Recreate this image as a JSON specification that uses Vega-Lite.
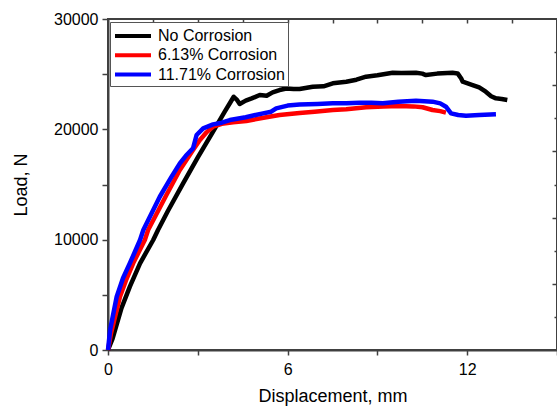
{
  "$schema": "https://vega.github.io/schema/vega-lite/v6.json",
  "width": 449,
  "height": 331,
  "autosize": {"type": "none"},
  "padding": {"left": 108, "top": 19, "right": 0, "bottom": 61},
  "background": "white",
  "config": {
    "view": {"stroke": "#404040", "strokeWidth": 2},
    "font": "Liberation Sans",
    "axis": {
      "domainColor": "#404040", "domainWidth": 2,
      "tickColor": "#404040", "tickWidth": 1.5,
      "labelColor": "black", "titleColor": "black", "grid": false,
      "labelFlush": false,
      "labelFont": "Liberation Sans", "titleFont": "Liberation Sans",
      "labelFontSize": 16, "titleFontSize": 18, "titleFontWeight": "normal"
    }
  },
  "data": {
    "values": [
      {"series": "No Corrosion", "disp": 0, "load": 0},
      {"series": "No Corrosion", "disp": 0.15, "load": 1000},
      {"series": "No Corrosion", "disp": 0.45, "load": 3800},
      {"series": "No Corrosion", "disp": 0.73, "load": 5740},
      {"series": "No Corrosion", "disp": 1.07, "load": 7860},
      {"series": "No Corrosion", "disp": 1.51, "load": 9970},
      {"series": "No Corrosion", "disp": 1.67, "load": 10876},
      {"series": "No Corrosion", "disp": 2.0, "load": 12600},
      {"series": "No Corrosion", "disp": 2.5, "load": 15050},
      {"series": "No Corrosion", "disp": 3.0, "load": 17450},
      {"series": "No Corrosion", "disp": 3.5, "load": 19750},
      {"series": "No Corrosion", "disp": 3.9, "load": 21600},
      {"series": "No Corrosion", "disp": 4.1, "load": 22500},
      {"series": "No Corrosion", "disp": 4.2, "load": 22950},
      {"series": "No Corrosion", "disp": 4.3, "load": 22700},
      {"series": "No Corrosion", "disp": 4.4, "load": 22300},
      {"series": "No Corrosion", "disp": 4.6, "load": 22600},
      {"series": "No Corrosion", "disp": 4.8, "load": 22800},
      {"series": "No Corrosion", "disp": 5.07, "load": 23110},
      {"series": "No Corrosion", "disp": 5.3, "load": 23050},
      {"series": "No Corrosion", "disp": 5.5, "load": 23350},
      {"series": "No Corrosion", "disp": 5.73, "load": 23564},
      {"series": "No Corrosion", "disp": 5.96, "load": 23700},
      {"series": "No Corrosion", "disp": 6.2, "load": 23650},
      {"series": "No Corrosion", "disp": 6.4, "load": 23650},
      {"series": "No Corrosion", "disp": 6.84, "load": 23860},
      {"series": "No Corrosion", "disp": 7.2, "load": 23900},
      {"series": "No Corrosion", "disp": 7.51, "load": 24170},
      {"series": "No Corrosion", "disp": 7.96, "load": 24316},
      {"series": "No Corrosion", "disp": 8.3, "load": 24500},
      {"series": "No Corrosion", "disp": 8.62, "load": 24770},
      {"series": "No Corrosion", "disp": 9.0, "load": 24900},
      {"series": "No Corrosion", "disp": 9.51, "load": 25130},
      {"series": "No Corrosion", "disp": 9.8, "load": 25100},
      {"series": "No Corrosion", "disp": 10.29, "load": 25130},
      {"series": "No Corrosion", "disp": 10.5, "load": 25050},
      {"series": "No Corrosion", "disp": 10.62, "load": 24920},
      {"series": "No Corrosion", "disp": 11.0, "load": 25050},
      {"series": "No Corrosion", "disp": 11.51, "load": 25130},
      {"series": "No Corrosion", "disp": 11.68, "load": 25070},
      {"series": "No Corrosion", "disp": 11.8, "load": 24600},
      {"series": "No Corrosion", "disp": 11.85, "load": 24316},
      {"series": "No Corrosion", "disp": 12.18, "load": 24017},
      {"series": "No Corrosion", "disp": 12.4, "load": 23800},
      {"series": "No Corrosion", "disp": 12.62, "load": 23410},
      {"series": "No Corrosion", "disp": 12.8, "load": 23000},
      {"series": "No Corrosion", "disp": 12.96, "load": 22810},
      {"series": "No Corrosion", "disp": 13.15, "load": 22750},
      {"series": "No Corrosion", "disp": 13.34, "load": 22657},

      {"series": "6.13% Corrosion", "disp": 0, "load": 0},
      {"series": "6.13% Corrosion", "disp": 0.1, "load": 1500},
      {"series": "6.13% Corrosion", "disp": 0.4, "load": 4830},
      {"series": "6.13% Corrosion", "disp": 0.6, "load": 6300},
      {"series": "6.13% Corrosion", "disp": 0.84, "load": 7860},
      {"series": "6.13% Corrosion", "disp": 1.23, "load": 9970},
      {"series": "6.13% Corrosion", "disp": 1.34, "load": 10876},
      {"series": "6.13% Corrosion", "disp": 1.96, "load": 14100},
      {"series": "6.13% Corrosion", "disp": 2.4, "load": 16313},
      {"series": "6.13% Corrosion", "disp": 2.84, "load": 18126},
      {"series": "6.13% Corrosion", "disp": 3.07, "load": 19030},
      {"series": "6.13% Corrosion", "disp": 3.3, "load": 19750},
      {"series": "6.13% Corrosion", "disp": 3.51, "load": 20240},
      {"series": "6.13% Corrosion", "disp": 3.8, "load": 20500},
      {"series": "6.13% Corrosion", "disp": 4.18, "load": 20650},
      {"series": "6.13% Corrosion", "disp": 4.62, "load": 20750},
      {"series": "6.13% Corrosion", "disp": 5.29, "load": 21100},
      {"series": "6.13% Corrosion", "disp": 5.73, "load": 21300},
      {"series": "6.13% Corrosion", "disp": 6.4, "load": 21480},
      {"series": "6.13% Corrosion", "disp": 6.9, "load": 21600},
      {"series": "6.13% Corrosion", "disp": 7.51, "load": 21750},
      {"series": "6.13% Corrosion", "disp": 7.96, "load": 21815},
      {"series": "6.13% Corrosion", "disp": 8.62, "load": 22000},
      {"series": "6.13% Corrosion", "disp": 9.2, "load": 22080},
      {"series": "6.13% Corrosion", "disp": 9.73, "load": 22110},
      {"series": "6.13% Corrosion", "disp": 10.2, "load": 22080},
      {"series": "6.13% Corrosion", "disp": 10.51, "load": 22000},
      {"series": "6.13% Corrosion", "disp": 10.84, "load": 21750},
      {"series": "6.13% Corrosion", "disp": 11.1, "load": 21650},
      {"series": "6.13% Corrosion", "disp": 11.29, "load": 21510},

      {"series": "11.71% Corrosion", "disp": 0, "load": 0},
      {"series": "11.71% Corrosion", "disp": 0.07, "load": 1810},
      {"series": "11.71% Corrosion", "disp": 0.29, "load": 4830},
      {"series": "11.71% Corrosion", "disp": 0.5, "load": 6500},
      {"series": "11.71% Corrosion", "disp": 0.73, "load": 7860},
      {"series": "11.71% Corrosion", "disp": 1.07, "load": 9970},
      {"series": "11.71% Corrosion", "disp": 1.18, "load": 10876},
      {"series": "11.71% Corrosion", "disp": 1.73, "load": 13890},
      {"series": "11.71% Corrosion", "disp": 2.1, "load": 15600},
      {"series": "11.71% Corrosion", "disp": 2.4, "load": 16920},
      {"series": "11.71% Corrosion", "disp": 2.6, "load": 17600},
      {"series": "11.71% Corrosion", "disp": 2.84, "load": 18280},
      {"series": "11.71% Corrosion", "disp": 2.96, "load": 19485},
      {"series": "11.71% Corrosion", "disp": 3.18, "load": 20090},
      {"series": "11.71% Corrosion", "disp": 3.51, "load": 20450},
      {"series": "11.71% Corrosion", "disp": 3.8, "load": 20600},
      {"series": "11.71% Corrosion", "disp": 4.07, "load": 20845},
      {"series": "11.71% Corrosion", "disp": 4.6, "load": 21100},
      {"series": "11.71% Corrosion", "disp": 5.18, "load": 21450},
      {"series": "11.71% Corrosion", "disp": 5.45, "load": 21600},
      {"series": "11.71% Corrosion", "disp": 5.62, "load": 21900},
      {"series": "11.71% Corrosion", "disp": 6.0, "load": 22150},
      {"series": "11.71% Corrosion", "disp": 6.4, "load": 22250},
      {"series": "11.71% Corrosion", "disp": 7.0, "load": 22300},
      {"series": "11.71% Corrosion", "disp": 7.51, "load": 22360},
      {"series": "11.71% Corrosion", "disp": 7.96, "load": 22360},
      {"series": "11.71% Corrosion", "disp": 8.4, "load": 22420},
      {"series": "11.71% Corrosion", "disp": 8.8, "load": 22400},
      {"series": "11.71% Corrosion", "disp": 9.18, "load": 22360},
      {"series": "11.71% Corrosion", "disp": 9.7, "load": 22500},
      {"series": "11.71% Corrosion", "disp": 10.29, "load": 22600},
      {"series": "11.71% Corrosion", "disp": 10.84, "load": 22510},
      {"series": "11.71% Corrosion", "disp": 11.1, "load": 22350},
      {"series": "11.71% Corrosion", "disp": 11.29, "load": 22050},
      {"series": "11.71% Corrosion", "disp": 11.46, "load": 21450},
      {"series": "11.71% Corrosion", "disp": 11.7, "load": 21300},
      {"series": "11.71% Corrosion", "disp": 11.96, "load": 21240},
      {"series": "11.71% Corrosion", "disp": 12.4, "load": 21300},
      {"series": "11.71% Corrosion", "disp": 12.96, "load": 21360}
    ]
  },
  "layer": [
    {
      "mark": {"type": "line", "strokeWidth": 4.5, "strokeJoin": "round"},
      "encoding": {
        "x": {
          "field": "disp", "type": "quantitative",
          "scale": {"domain": [0, 15], "nice": false, "zero": false},
          "axis": {
            "values": [0, 3, 6, 9, 12, 15],
            "format": "d",
            "labelExpr": "datum.value % 6 === 0 && datum.value < 15 ? datum.label : ''",
            "tickSize": 5, "labelPadding": 6,
            "title": "Displacement, mm", "titlePadding": 10
          }
        },
        "y": {
          "field": "load", "type": "quantitative",
          "scale": {"domain": [0, 30000], "nice": false},
          "axis": {
            "values": [0, 5000, 10000, 15000, 20000, 25000, 30000],
            "format": "d",
            "labelExpr": "datum.value % 10000 === 0 ? datum.label : ''",
            "tickSize": 6, "labelPadding": 4,
            "title": "Load, N", "titlePadding": 23
          }
        },
        "color": {
          "field": "series", "type": "nominal",
          "scale": {
            "domain": ["No Corrosion", "6.13% Corrosion", "11.71% Corrosion"],
            "range": ["#000000", "#ff0000", "#0000ff"]
          },
          "legend": {
            "orient": "none", "legendX": 2, "legendY": 3,
            "title": null,
            "strokeColor": "#555555", "fillColor": "white", "padding": 3,
            "symbolType": "M-1,0H3", "symbolSize": 324, "symbolStrokeWidth": 4,
            "labelOffset": 23, "labelFontSize": 16, "labelFont": "Liberation Sans",
            "labelColor": "black", "rowPadding": 0.3
          }
        }
      }
    },
    {
      "mark": {"type": "point", "opacity": 0},
      "encoding": {
        "x": {
          "field": "disp", "type": "quantitative",
          "axis": {
            "orient": "top", "offset": -4, "domain": false,
            "values": [1.5, 3, 4.5, 6, 7.5, 9, 10.5, 12, 13.5],
            "tickSize": 4, "labels": false, "title": null
          }
        },
        "y": {
          "field": "load", "type": "quantitative",
          "axis": {
            "orient": "right", "offset": -5, "domain": false,
            "values": [6000, 12000, 18000, 24000],
            "tickSize": 5, "labels": false, "title": null
          }
        }
      }
    },
    {
      "mark": {"type": "point", "opacity": 0},
      "encoding": {
        "x": {"field": "disp", "type": "quantitative", "axis": null},
        "y": {
          "field": "load", "type": "quantitative",
          "axis": {
            "orient": "right", "offset": -3, "domain": false,
            "values": [3000, 9000, 15000, 21000, 27000],
            "tickSize": 3, "labels": false, "title": null
          }
        }
      }
    }
  ],
  "resolve": {"axis": {"x": "independent", "y": "independent"}}
}
